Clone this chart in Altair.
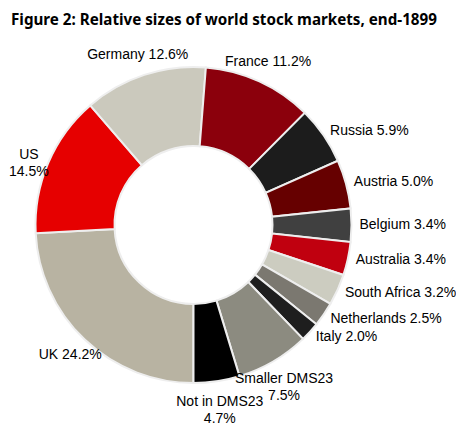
import math

import altair as alt
import pandas as pd

# slices clockwise, starting from the bottom of the ring
names = ["UK", "US", "Germany", "France", "Russia", "Austria", "Belgium",
         "Australia", "South Africa", "Netherlands", "Italy",
         "Smaller DMS23", "Not in DMS23"]
shares = [24.2, 14.5, 12.6, 11.2, 5.9, 5.0, 3.4, 3.4, 3.2, 2.5, 2.0, 7.5, 4.7]
breaks = [" ", "\n", " ", " ", " ", " ", " ", " ", " ", " ", " ", "\n", "\n"]
colors = ["#b8b3a2", "#e60000", "#cbc9bd", "#8b000c", "#1c1c1c", "#660000",
          "#404040", "#c0000f", "#ccccc0", "#7b7870", "#1e1e1e", "#8c8b80",
          "#000000"]

df = pd.DataFrame({
    "name": names,
    "share": shares,
    "label": [f"{n}{b}{v:.1f}%" for n, b, v in zip(names, breaks, shares)],
    "order": range(len(names)),
})
total = sum(shares)

theta_scale = alt.Scale(domain=[0, total], range=[math.pi, 3 * math.pi])
color_scale = alt.Scale(domain=names, range=colors)

base = alt.Chart(df).transform_window(
    cum="sum(share)", sort=[{"field": "order"}]
).transform_calculate(
    start="datum.cum - datum.share",
    mid="datum.cum - datum.share / 2",
    ang="(180 + (datum.cum - datum.share / 2) * 360 / %f) %% 360" % total,
    lines="split(datum.label, '\\n')",
)

ring = base.mark_arc(
    innerRadius=79, outerRadius=158, stroke="#eeeeee", strokeWidth=2
).encode(
    theta=alt.Theta("start:Q", scale=theta_scale),
    theta2="cum:Q",
    color=alt.Color("name:N", scale=color_scale, legend=None),
)

text_style = dict(font="Liberation Sans", fontSize=14, color="#000000",
                  baseline="middle", lineHeight=17)

# labels on the right flank sit left-aligned just outside the ring
side_labels = base.transform_filter(
    (alt.datum.ang > 40) & (alt.datum.ang < 140)
).mark_text(radius=166, align="left", **text_style).encode(
    theta=alt.Theta("mid:Q", scale=theta_scale, stack=False),
    text="lines:N",
)

other_labels = base.transform_filter(
    (alt.datum.ang <= 40) | (alt.datum.ang >= 140)
).mark_text(radius=179, align="center", **text_style).encode(
    theta=alt.Theta("mid:Q", scale=theta_scale, stack=False),
    text="lines:N",
)

chart = alt.layer(ring, side_labels, other_labels).properties(
    width=371,
    height=354,
    autosize=alt.AutoSizeParams(type="none"),
    padding={"left": 0, "top": 40, "right": 77, "bottom": 26},
    title=alt.TitleParams(
        "Figure 2: Relative sizes of world stock markets, end-1899",
        anchor="start", frame="group", font="Noto Sans", fontSize=15.2,
        fontWeight="bold", color="#000000", offset=20, dx=3,
    ),
).configure_view(stroke=None)

chart.save("out.html", embed_options={"renderer": "svg", "actions": False})
